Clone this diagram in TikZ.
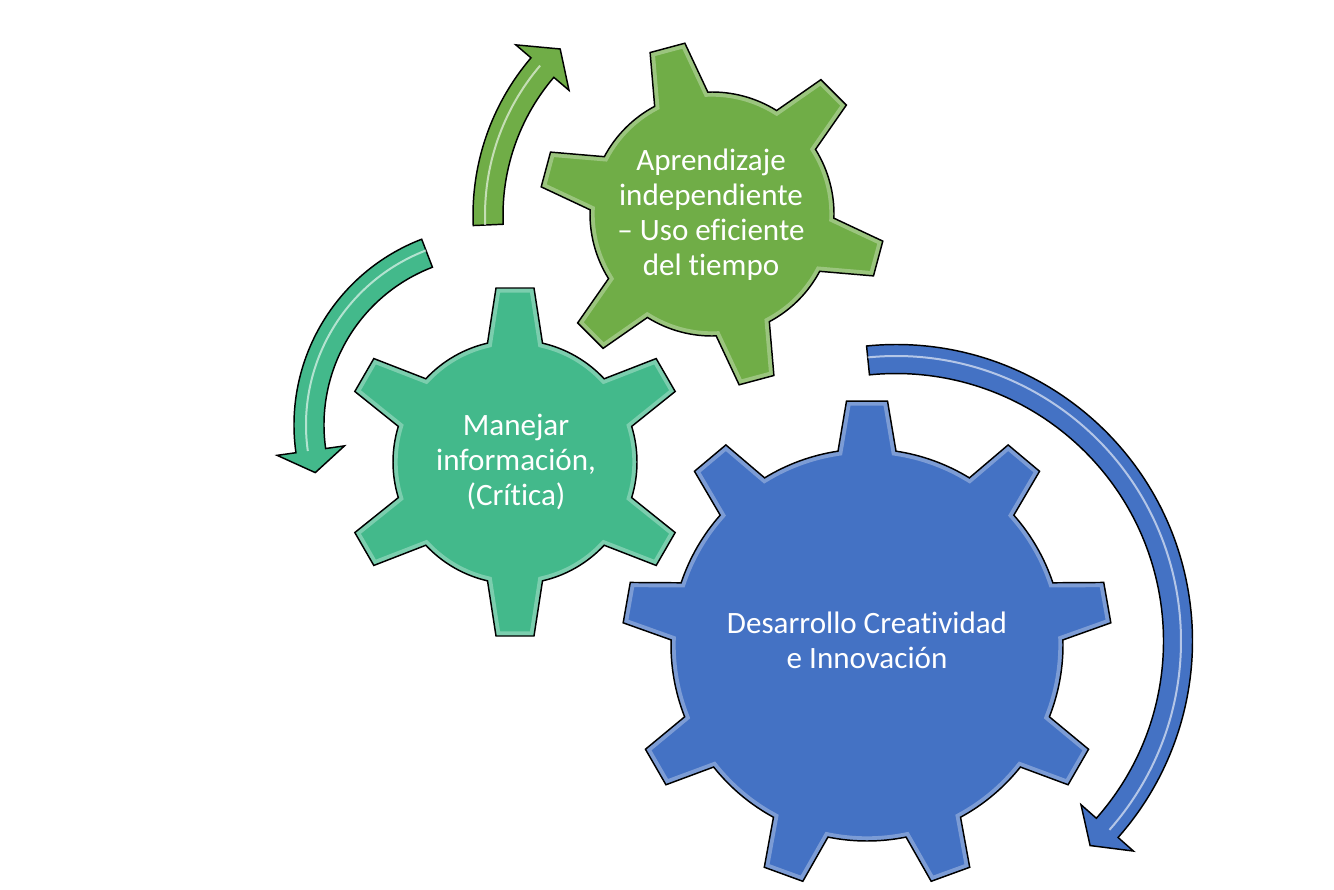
\documentclass[tikz,border=0pt]{standalone}
\usepackage{fontspec}
\setmainfont{Carlito}[Ligatures=NoCommon]
\definecolor{gBlue}{RGB}{68,114,196}
\definecolor{gGreen}{RGB}{112,173,71}
\definecolor{gTeal}{RGB}{67,185,139}
\tikzset{
  gearline/.style={draw=black, line width=1.1pt, line join=miter},
  gtext/.style={text=white, align=center, font=\fontsize{23.3}{26.3}\selectfont},
}
\newcommand\drawgear[9]{%
  \pgfmathsetmacro\ga{asin(#9/#6)}%
  \pgfmathsetmacro\gb{atan(#8/#7)}%
  \pgfmathsetmacro\gRt{veclen(#7,#8)}%
  \pgfmathsetmacro\gstep{360/#4}%
  \pgfmathtruncatemacro\gnm{#4-1}%
  \def\gearshape{({#5-\ga}:#6) \foreach \k in {0,...,\gnm}{ -- ({#5+\k*\gstep-\gb}:\gRt) -- ({#5+\k*\gstep+\gb}:\gRt) -- ({#5+\k*\gstep+\ga}:#6) arc[start angle={#5+\k*\gstep+\ga}, end angle={#5+(\k+1)*\gstep-\ga}, radius=#6]} -- cycle}%
  \begin{scope}[shift={(#2,#3)}]
    \fill[#1] \gearshape;
    \begin{scope}
      \clip \gearshape;
      \draw[white, opacity=0.3, line width=7pt] \gearshape;
    \end{scope}
    \draw[gearline] \gearshape;
  \end{scope}%
}
\newcommand\circarrow[9]{%
  \pgfmathsetmacro\aro{#4+#5}\pgfmathsetmacro\ari{#4-#5}%
  \pgfmathsetmacro\aho{#4+#6}\pgfmathsetmacro\ahi{#4-#6}%
  \pgfmathsetmacro\ahl{#4+3}%
  \begin{scope}[shift={(#2,#3)}]
    \draw[fill=#1, gearline] (#7:\aro) arc[start angle=#7, end angle=#8, radius=\aro] -- (#8:\aho) -- (#9:#4) -- (#8:\ahi) -- (#8:\ari) arc[start angle=#8, end angle=#7, radius=\ari] -- cycle;
    \draw[white, opacity=0.6, line width=1.5pt] (#7:\ahl) arc[start angle=#7, end angle=#8, radius=\ahl];
  \end{scope}%
}
\begin{document}
\begin{tikzpicture}[x=0.75pt, y=0.75pt]
  \useasboundingbox (0,0) rectangle (1334,-889);
  \drawgear{gTeal}{515}{-462}{6}{90}{122}{174}{19}{27.5}
  \drawgear{gGreen}{712}{-214}{6}{105}{122}{172}{18}{27.5}
  \drawgear{gBlue}{867}{-645}{9}{90}{196}{244}{20.5}{29}
  \circarrow{gGreen}{715}{-215}{227}{15}{35}{182.5}{139.5}{133}
  \circarrow{gTeal}{493}{-425}{184}{15}{34}{111}{188}{195}
  \circarrow{gBlue}{896}{-641}{282}{14.5}{35}{95.7}{-41.5}{-46.5}
  \node[gtext] (tA) at (711,-215) {Aprendizaje\\independiente\\– Uso eficiente\\del tiempo};
  \node[gtext] (tM) at (516,-462) {Manejar\\información,\\(Crítica)};
  \node[gtext] (tD) at (867,-640) {Desarrollo Creatividad\\e Innovación};
\end{tikzpicture}
\end{document}
